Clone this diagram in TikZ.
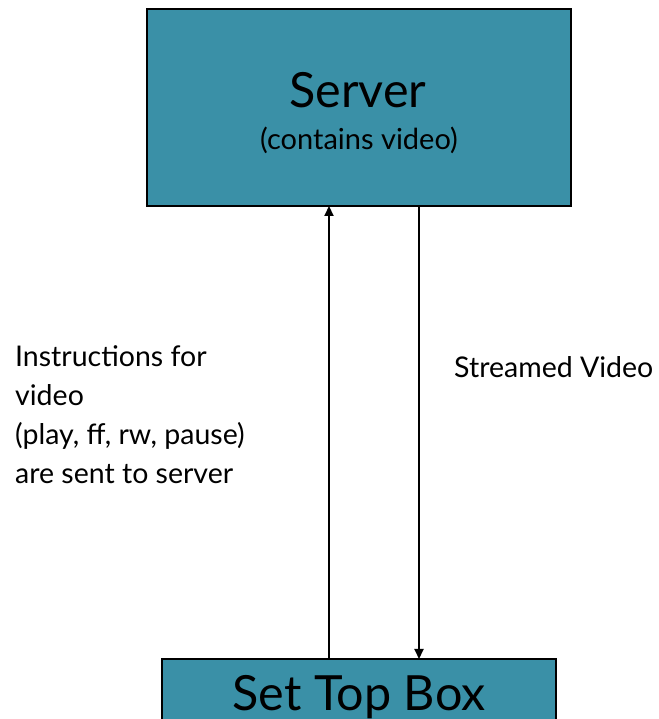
\documentclass[tikz,border=0pt]{standalone}
\usepackage{fontspec}
\setmainfont{Lato}
\usetikzlibrary{arrows.meta}
\definecolor{boxteal}{HTML}{3A90A7}
\begin{document}
\begin{tikzpicture}[x=1pt,y=1pt,
  boxst/.style={draw=black,line width=2.5pt,fill=boxteal,inner sep=0pt,outer sep=0pt},
  arr/.style={line width=2pt,-{Triangle[length=10pt,width=9pt]}},
  lbl/.style={inner sep=0pt,font=\fontsize{28.5}{39}\selectfont}]
\useasboundingbox (0,0) rectangle (658,719);
\begin{scope}
\clip (0,0) rectangle (658,719);
\node[boxst,minimum width=424pt,minimum height=197pt] (srv) at (359,611.5) {};
\node[boxst,minimum width=394pt,minimum height=90pt] (stb) at (359,15) {};
\end{scope}
\node[inner sep=0pt,anchor=base,font=\fontsize{48.5}{48}\selectfont] (srvt) at (358,611) {Server};
\node[inner sep=0pt,anchor=base,font=\fontsize{29}{29}\selectfont] (srvs) at (359,569) {(contains video)};
\node[inner sep=0pt,anchor=base,font=\fontsize{48.5}{48}\selectfont] (stbt) at (359,9) {Set Top Box};
\coordinate (upx) at (329,0);
\coordinate (dnx) at (419,0);
\draw[arr] (upx |- stb.north) -- (upx |- srv.south);
\draw[arr] (dnx |- srv.south) -- (dnx |- stb.north);
\node[lbl,anchor=north west,align=left] (instr) at (15,374) {Instructions for\\video\\(play, ff, rw, pause)\\are sent to server};
\node[lbl,anchor=west] (strm) at (454,352) {Streamed Video};
\end{tikzpicture}
\end{document}
